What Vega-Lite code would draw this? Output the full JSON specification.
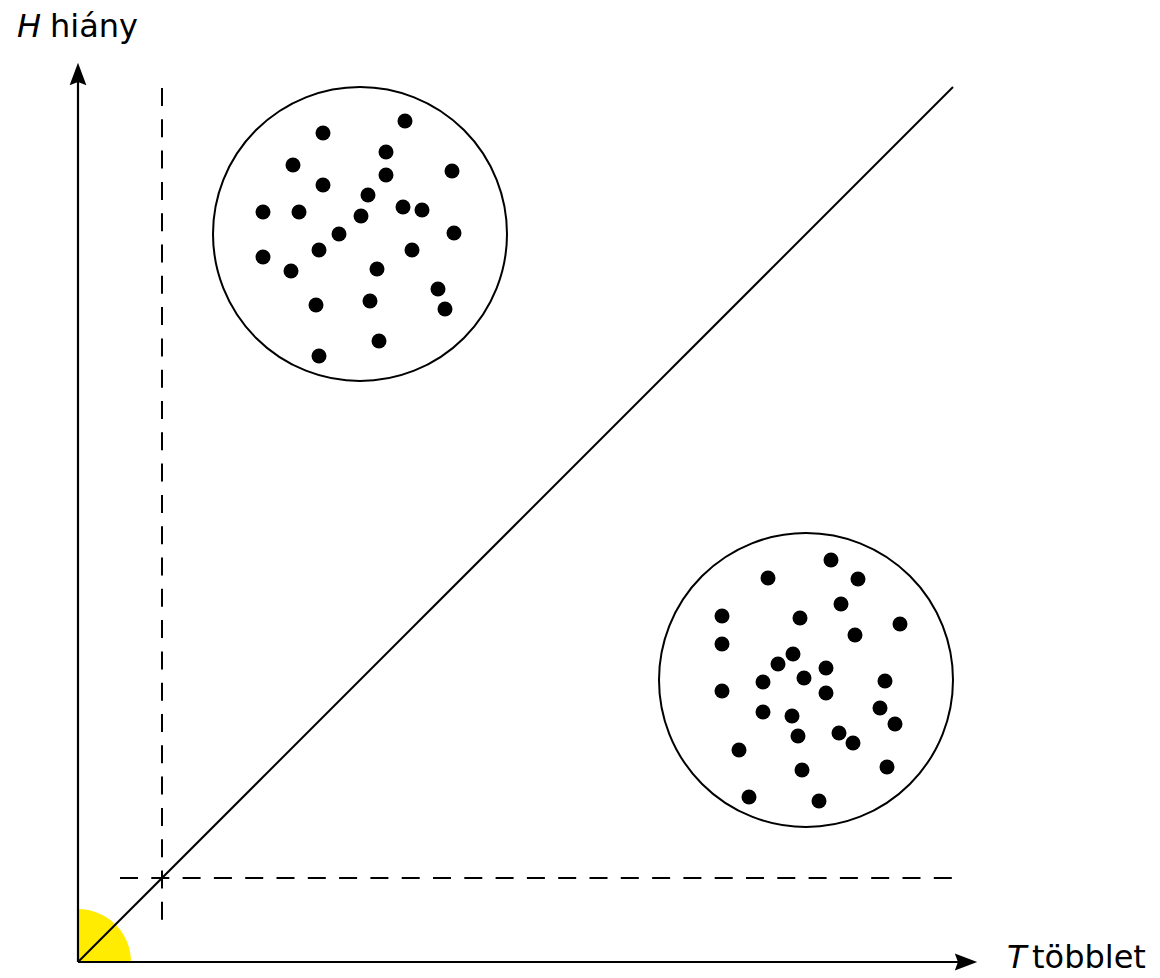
{
  "$schema": "https://vega.github.io/schema/vega-lite/v6.json",
  "width": 1160,
  "height": 978,
  "autosize": {"type": "none"},
  "padding": 0,
  "background": "white",
  "config": {"view": {"stroke": null}},
  "datasets": {
    "origin": [{"x": 0, "y": 0}],
    "axes": [
      {"x": 0, "y": 0, "x2": 0, "y2": 882},
      {"x": 0, "y": 0, "x2": 882, "y2": 0}
    ],
    "diagonal": [{"x": 0, "y": 0, "x2": 875, "y2": 875}],
    "dashed": [
      {"x": 84, "y": 874, "x2": 84, "y2": 42},
      {"x": 42, "y": 84, "x2": 877, "y2": 84}
    ],
    "arrowUp": [{"x": 0, "y": 888}],
    "arrowRight": [{"x": 888, "y": 0}],
    "circles": [{"x": 282, "y": 728}, {"x": 728, "y": 282}],
    "dots": [
      {"x": 327, "y": 841}, {"x": 245, "y": 829}, {"x": 308, "y": 810}, {"x": 215, "y": 797},
      {"x": 374, "y": 791}, {"x": 308, "y": 787}, {"x": 245, "y": 777}, {"x": 290, "y": 767},
      {"x": 185, "y": 750}, {"x": 221, "y": 750}, {"x": 325, "y": 755}, {"x": 344, "y": 752},
      {"x": 283, "y": 746}, {"x": 376, "y": 729}, {"x": 261, "y": 728}, {"x": 241, "y": 712},
      {"x": 334, "y": 712}, {"x": 185, "y": 705}, {"x": 213, "y": 691}, {"x": 299, "y": 693},
      {"x": 360, "y": 673}, {"x": 367, "y": 653}, {"x": 238, "y": 657}, {"x": 292, "y": 661},
      {"x": 301, "y": 621}, {"x": 241, "y": 606},
      {"x": 753, "y": 402}, {"x": 690, "y": 384}, {"x": 780, "y": 383}, {"x": 763, "y": 358},
      {"x": 644, "y": 346}, {"x": 722, "y": 344}, {"x": 822, "y": 338}, {"x": 777, "y": 327},
      {"x": 644, "y": 318}, {"x": 715, "y": 308}, {"x": 700, "y": 298}, {"x": 748, "y": 294},
      {"x": 726, "y": 284}, {"x": 685, "y": 280}, {"x": 807, "y": 281}, {"x": 644, "y": 271},
      {"x": 748, "y": 269}, {"x": 802, "y": 254}, {"x": 685, "y": 250}, {"x": 714, "y": 246},
      {"x": 817, "y": 238}, {"x": 720, "y": 226}, {"x": 761, "y": 229}, {"x": 775, "y": 219},
      {"x": 661, "y": 212}, {"x": 724, "y": 192}, {"x": 809, "y": 195}, {"x": 671, "y": 165},
      {"x": 741, "y": 161}
    ],
    "italicLabels": [
      {"x": -61, "y": 925, "label": "H"},
      {"x": 929, "y": -6, "label": "T"}
    ],
    "plainLabels": [
      {"x": -28, "y": 925, "label": "hiány"},
      {"x": 954, "y": -6, "label": "többlet"}
    ]
  },
  "encoding": {
    "x": {"field": "x", "type": "quantitative", "scale": {"domain": [-78, 1082], "nice": false, "zero": false}, "axis": null},
    "y": {"field": "y", "type": "quantitative", "scale": {"domain": [-16, 962], "nice": false, "zero": false}, "axis": null}
  },
  "layer": [
    {
      "data": {"name": "origin"},
      "mark": {"type": "point", "shape": "M0,0 L0,-1 A1,1 0 0,1 1,0 Z", "size": 11236, "filled": true, "fill": "#FFEC00", "strokeWidth": 0, "opacity": 1}
    },
    {
      "data": {"name": "dashed"},
      "mark": {"type": "rule", "color": "black", "strokeWidth": 2, "strokeDash": [18, 13.3]},
      "encoding": {"x2": {"field": "x2"}, "y2": {"field": "y2"}}
    },
    {
      "data": {"name": "diagonal"},
      "mark": {"type": "rule", "color": "black", "strokeWidth": 2},
      "encoding": {"x2": {"field": "x2"}, "y2": {"field": "y2"}}
    },
    {
      "data": {"name": "axes"},
      "mark": {"type": "rule", "color": "black", "strokeWidth": 2.2},
      "encoding": {"x2": {"field": "x2"}, "y2": {"field": "y2"}}
    },
    {
      "data": {"name": "arrowUp"},
      "mark": {"type": "point", "shape": "M0,-1 L0.75,1 L0,0.72 L-0.75,1 Z", "size": 500, "filled": true, "fill": "black", "strokeWidth": 0, "opacity": 1}
    },
    {
      "data": {"name": "arrowRight"},
      "mark": {"type": "point", "shape": "M0,-1 L0.75,1 L0,0.72 L-0.75,1 Z", "size": 500, "angle": 90, "filled": true, "fill": "black", "strokeWidth": 0, "opacity": 1}
    },
    {
      "data": {"name": "circles"},
      "mark": {"type": "point", "shape": "circle", "size": 86436, "filled": false, "stroke": "black", "strokeWidth": 2, "opacity": 1}
    },
    {
      "data": {"name": "dots"},
      "mark": {"type": "point", "shape": "circle", "size": 225, "filled": true, "fill": "black", "strokeWidth": 0, "opacity": 1}
    },
    {
      "data": {"name": "italicLabels"},
      "mark": {"type": "text", "font": "DejaVu Sans", "fontSize": 32, "fontStyle": "italic", "align": "left", "baseline": "alphabetic", "color": "black"},
      "encoding": {"text": {"field": "label"}}
    },
    {
      "data": {"name": "plainLabels"},
      "mark": {"type": "text", "font": "DejaVu Sans", "fontSize": 32, "align": "left", "baseline": "alphabetic", "color": "black"},
      "encoding": {"text": {"field": "label"}}
    }
  ]
}
